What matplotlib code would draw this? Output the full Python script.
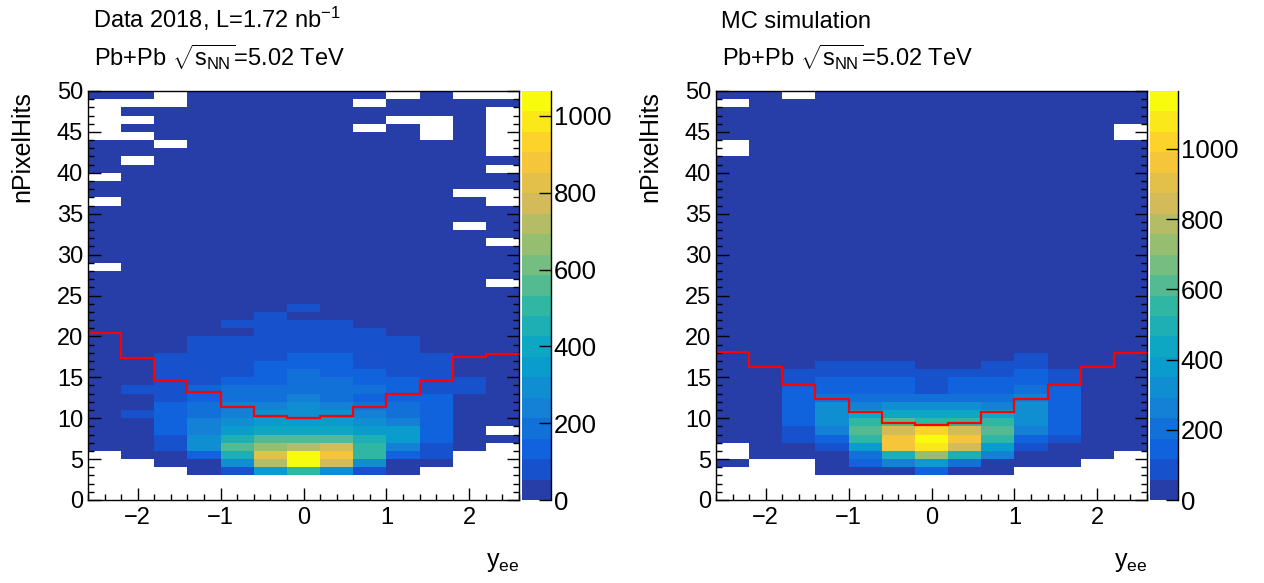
import numpy as np
import matplotlib
matplotlib.use('Agg')
import matplotlib.pyplot as plt
from matplotlib.colors import LinearSegmentedColormap, ListedColormap, Normalize
from matplotlib.ticker import MultipleLocator

plt.rcParams['font.family'] = 'Liberation Sans'
plt.rcParams['mathtext.fontset'] = 'custom'
plt.rcParams['mathtext.rm'] = 'Liberation Sans'
plt.rcParams['mathtext.it'] = 'Liberation Sans'
plt.rcParams['mathtext.bf'] = 'Liberation Sans:bold'

# binning
yee_edges = np.linspace(-2.6, 2.6, 14)
npix_edges = np.arange(0, 51)

# counts per bin, rows from nPixelHits 49 (top) down to 0, 13 y_ee bins
data_rows = [
    [2, 1, 0, 2, 3, 2, 2, 3, 2, 0, 1, 0, 0],
    [0, 0, 0, 2, 3, 3, 2, 2, 0, 2, 2, 1, 1],
    [0, 1, 2, 3, 3, 3, 4, 3, 2, 2, 2, 1, 0],
    [0, 0, 2, 2, 3, 4, 3, 3, 2, 0, 0, 2, 0],
    [0, 2, 2, 3, 4, 3, 4, 3, 0, 2, 0, 1, 0],
    [0, 0, 3, 3, 3, 4, 4, 3, 3, 2, 0, 2, 0],
    [1, 2, 0, 3, 4, 4, 4, 4, 3, 2, 2, 1, 0],
    [2, 2, 2, 3, 4, 5, 4, 4, 3, 3, 2, 2, 0],
    [1, 0, 2, 4, 4, 5, 5, 4, 4, 3, 2, 2, 1],
    [2, 1, 3, 3, 5, 4, 5, 4, 4, 3, 3, 2, 0],
    [0, 2, 3, 4, 4, 5, 5, 5, 4, 3, 2, 2, 1],
    [2, 2, 3, 4, 5, 5, 6, 5, 4, 4, 3, 2, 1],
    [1, 2, 3, 4, 5, 6, 6, 5, 5, 4, 3, 0, 0],
    [0, 2, 3, 4, 5, 6, 6, 6, 5, 4, 3, 2, 0],
    [2, 3, 3, 5, 6, 6, 7, 6, 5, 4, 3, 2, 2],
    [2, 3, 4, 5, 6, 7, 7, 7, 6, 5, 3, 3, 2],
    [2, 3, 4, 5, 6, 7, 8, 7, 6, 5, 4, 0, 1],
    [3, 3, 4, 6, 7, 8, 8, 8, 7, 5, 4, 3, 2],
    [2, 3, 5, 6, 7, 8, 9, 8, 7, 6, 4, 3, 0],
    [3, 4, 5, 6, 8, 9, 10, 9, 8, 6, 5, 3, 2],
    [3, 4, 5, 7, 8, 10, 11, 10, 9, 7, 5, 4, 2],
    [0, 4, 6, 8, 10, 11, 12, 11, 10, 8, 6, 4, 3],
    [3, 5, 6, 9, 11, 13, 14, 13, 11, 9, 6, 4, 3],
    [4, 5, 7, 10, 13, 15, 16, 15, 13, 10, 7, 5, 0],
    [4, 6, 8, 12, 15, 18, 20, 18, 15, 12, 8, 6, 4],
    [5, 7, 10, 14, 18, 22, 25, 22, 18, 14, 10, 7, 5],
    [6, 8, 12, 15, 20, 30, 80, 30, 20, 15, 12, 8, 6],
    [8, 10, 15, 20, 30, 80, 45, 40, 25, 18, 12, 10, 8],
    [8, 10, 18, 30, 75, 90, 85, 80, 40, 25, 15, 10, 8],
    [10, 12, 22, 40, 50, 100, 105, 95, 75, 35, 20, 12, 10],
    [10, 15, 30, 70, 95, 100, 100, 100, 100, 80, 25, 15, 10],
    [12, 15, 35, 85, 100, 100, 100, 100, 100, 90, 30, 15, 12],
    [12, 18, 70, 95, 100, 100, 140, 135, 100, 95, 70, 18, 12],
    [15, 20, 75, 95, 100, 120, 150, 145, 100, 95, 75, 20, 15],
    [15, 25, 80, 100, 100, 140, 160, 150, 135, 100, 85, 30, 15],
    [15, 30, 80, 100, 140, 150, 190, 180, 145, 120, 80, 60, 15],
    [20, 70, 90, 140, 190, 200, 205, 195, 170, 130, 90, 65, 20],
    [25, 35, 100, 150, 180, 200, 235, 200, 150, 130, 115, 35, 20],
    [30, 40, 130, 200, 240, 250, 300, 250, 200, 180, 130, 40, 25],
    [35, 80, 140, 200, 250, 290, 310, 290, 240, 190, 140, 45, 30],
    [35, 45, 150, 250, 300, 340, 350, 345, 300, 240, 140, 45, 30],
    [35, 45, 150, 260, 350, 400, 410, 390, 360, 350, 140, 45, 0],
    [30, 45, 100, 300, 460, 560, 570, 565, 460, 350, 130, 40, 30],
    [25, 40, 90, 300, 560, 680, 730, 780, 500, 250, 90, 30, 0],
    [0, 30, 40, 140, 460, 840, 1065, 890, 510, 140, 80, 0, 0],
    [0, 0, 25, 45, 300, 720, 1040, 770, 300, 40, 30, 0, 0],
    [0, 0, 0, 20, 80, 350, 510, 300, 80, 25, 0, 0, 0],
    [0] * 13,
    [0] * 13,
    [0] * 13,
]

mc_rows = [
    [2, 2, 0, 2, 3, 3, 3, 3, 3, 2, 2, 2, 1],
    [0, 2, 2, 3, 3, 3, 3, 3, 3, 3, 2, 2, 2],
    [2, 2, 3, 3, 3, 4, 4, 4, 3, 3, 3, 2, 2],
    [2, 2, 3, 3, 4, 4, 4, 4, 4, 3, 3, 2, 2],
    [2, 3, 3, 4, 4, 4, 5, 4, 4, 4, 3, 2, 0],
    [2, 3, 3, 4, 4, 5, 5, 5, 4, 4, 3, 3, 0],
    [0, 3, 4, 4, 5, 5, 5, 5, 5, 4, 4, 3, 2],
    [0, 3, 4, 4, 5, 5, 6, 5, 5, 4, 4, 3, 2],
    [2, 3, 4, 5, 5, 6, 6, 6, 5, 5, 4, 3, 2],
    [3, 3, 4, 5, 6, 6, 6, 6, 6, 5, 4, 3, 3],
    [3, 3, 4, 5, 6, 6, 7, 6, 6, 5, 4, 3, 3],
    [3, 4, 5, 5, 6, 7, 7, 7, 6, 5, 5, 4, 3],
    [3, 4, 5, 6, 7, 7, 8, 7, 7, 6, 5, 4, 3],
    [3, 4, 5, 6, 7, 8, 8, 8, 7, 6, 5, 4, 3],
    [3, 4, 5, 6, 7, 8, 9, 8, 7, 6, 5, 4, 3],
    [4, 4, 5, 7, 8, 9, 9, 9, 8, 7, 5, 4, 4],
    [4, 5, 6, 7, 8, 9, 10, 9, 8, 7, 6, 5, 4],
    [4, 5, 6, 7, 9, 10, 10, 10, 9, 7, 6, 5, 4],
    [4, 5, 6, 8, 9, 10, 11, 10, 9, 8, 6, 5, 4],
    [5, 5, 7, 8, 10, 11, 12, 11, 10, 8, 7, 5, 5],
    [5, 6, 7, 9, 10, 12, 12, 12, 10, 9, 7, 6, 5],
    [5, 6, 7, 9, 11, 12, 13, 12, 11, 9, 7, 6, 5],
    [5, 6, 8, 10, 12, 13, 14, 13, 12, 10, 8, 6, 5],
    [6, 7, 8, 11, 13, 14, 15, 14, 13, 11, 8, 7, 6],
    [6, 7, 9, 12, 14, 16, 17, 16, 14, 12, 9, 7, 6],
    [7, 8, 10, 13, 16, 18, 19, 18, 16, 13, 10, 8, 7],
    [7, 9, 11, 15, 18, 20, 21, 20, 18, 15, 11, 9, 7],
    [8, 10, 13, 17, 20, 22, 24, 22, 20, 17, 13, 10, 8],
    [8, 11, 15, 20, 23, 25, 27, 25, 23, 20, 15, 11, 8],
    [9, 12, 17, 23, 27, 29, 30, 29, 27, 23, 17, 12, 9],
    [9, 13, 19, 27, 31, 33, 34, 33, 31, 27, 19, 13, 9],
    [10, 14, 22, 31, 36, 38, 38, 38, 36, 31, 22, 14, 10],
    [10, 14, 25, 35, 40, 45, 45, 45, 45, 70, 30, 14, 10],
    [12, 16, 45, 75, 80, 75, 50, 50, 75, 85, 45, 16, 12],
    [14, 20, 70, 90, 95, 100, 90, 95, 100, 130, 80, 22, 14],
    [15, 25, 80, 130, 140, 145, 100, 140, 140, 150, 95, 28, 15],
    [18, 30, 130, 150, 160, 165, 110, 160, 150, 200, 130, 32, 18],
    [20, 35, 140, 210, 220, 230, 215, 220, 210, 260, 140, 38, 20],
    [22, 38, 150, 320, 270, 330, 320, 330, 270, 320, 145, 40, 20],
    [22, 40, 155, 330, 440, 450, 440, 450, 440, 330, 150, 40, 22],
    [22, 40, 150, 325, 560, 620, 560, 560, 560, 330, 150, 40, 22],
    [20, 38, 110, 270, 620, 860, 1030, 860, 620, 270, 140, 38, 20],
    [20, 35, 90, 150, 560, 970, 1165, 970, 560, 160, 90, 35, 18],
    [0, 30, 45, 90, 390, 960, 1090, 860, 390, 90, 45, 30, 15],
    [0, 25, 35, 45, 210, 500, 740, 500, 270, 45, 35, 25, 0],
    [20, 0, 0, 30, 150, 270, 390, 210, 40, 30, 25, 0, 0],
    [0, 0, 0, 20, 30, 40, 150, 40, 25, 0, 0, 0, 0],
    [0] * 13,
    [0] * 13,
    [0] * 13,
]

# red cut line per y_ee bin
data_cut = [20.4, 17.4, 14.6, 13.2, 11.4, 10.3, 10.05, 10.3, 11.4, 12.9, 14.6, 17.5, 17.8]
mc_cut = [18.1, 16.3, 14.06, 12.35, 10.7, 9.45, 9.13, 9.45, 10.7, 12.35, 14.0, 16.2, 18.0]

data_text = ['Data 2018, L=1.72 nb$^{-1}$', r'Pb+Pb $\sqrt{s_{NN}}$=5.02 TeV']
mc_text = ['MC simulation', r'Pb+Pb $\sqrt{s_{NN}}$=5.02 TeV']
cbar_ticks = [0, 200, 400, 600, 800, 1000]

# ROOT kBird palette sampled for 20 contours
stops = [0.0, 0.125, 0.25, 0.375, 0.5, 0.625, 0.75, 0.875, 1.0]
red = [0.2082, 0.0592, 0.0780, 0.0232, 0.1802, 0.5301, 0.8186, 0.9956, 0.9764]
green = [0.1664, 0.3599, 0.5041, 0.6419, 0.7178, 0.7492, 0.7328, 0.7862, 0.9832]
blue = [0.5293, 0.8684, 0.8385, 0.7914, 0.6425, 0.4662, 0.3499, 0.1968, 0.0539]
bird = LinearSegmentedColormap.from_list('bird', list(zip(stops, zip(red, green, blue))))
ncont = 20
cmap = ListedColormap([bird(int((i + 0.99) * 255 / ncont) / 254.) for i in range(ncont)])
cmap.set_bad('white')

W, H = 1264, 583
fig = plt.figure(figsize=(W / 100, H / 100), dpi=100)

panels = [
    (88, 522, 29, data_rows, data_cut, data_text),
    (716, 1150, 28, mc_rows, mc_cut, mc_text),
]

for x0, cx0, cw, rows, cut, texts in panels:
    ax = fig.add_axes([x0 / W, 83 / H, 431 / W, 409 / H])
    cax = fig.add_axes([cx0 / W, 83 / H, cw / W, 409 / H])

    z = np.ma.masked_equal(np.array(rows[::-1], dtype=float), 0)
    norm = Normalize(vmin=0, vmax=z.max())
    mesh = ax.pcolormesh(yee_edges, npix_edges, z, cmap=cmap, norm=norm,
                         antialiased=False, linewidth=0)
    ax.stairs(cut, yee_edges, baseline=None, color='red', lw=1.6, zorder=3)

    ax.set_xlim(-2.6, 2.6)
    ax.set_ylim(0, 50)
    ax.xaxis.set_major_locator(MultipleLocator(1))
    ax.xaxis.set_minor_locator(MultipleLocator(0.2))
    ax.yaxis.set_major_locator(MultipleLocator(5))
    ax.yaxis.set_minor_locator(MultipleLocator(1))
    ax.tick_params(which='both', direction='in', top=False, right=True, width=1,
                   labelsize=17, zorder=5)
    ax.tick_params(which='major', length=9)
    ax.tick_params(which='minor', length=4.5)
    ax.tick_params(axis='x', pad=5)
    for s in ax.spines.values():
        s.set_linewidth(1)
        s.set_zorder(6)

    ax.text(1.0, (500 - 567) / 409, r'$y_{ee}$', ha='right', va='baseline',
            fontsize=18, transform=ax.transAxes)
    ax.text(-0.153, 1.0, 'nPixelHits', rotation=90, ha='center', va='top',
            fontsize=18, transform=ax.transAxes)

    cb = fig.colorbar(mesh, cax=cax, ticks=cbar_ticks)
    cb.outline.set_visible(False)
    cb.minorticks_off()
    cax.tick_params(direction='in', length=9, width=1, labelsize=18.5, pad=2,
                    right=True, left=False)
    cax.plot([1, 1], [0, 1], transform=cax.transAxes, color='black', lw=1,
             clip_on=False)

    fig.text((x0 + 5) / W, 1 - 28 / H, texts[0], fontsize=17, va='baseline')
    fig.text((x0 + 6) / W, 1 - 66 / H, texts[1], fontsize=17, va='baseline')

fig.savefig('out.png', dpi=100)
